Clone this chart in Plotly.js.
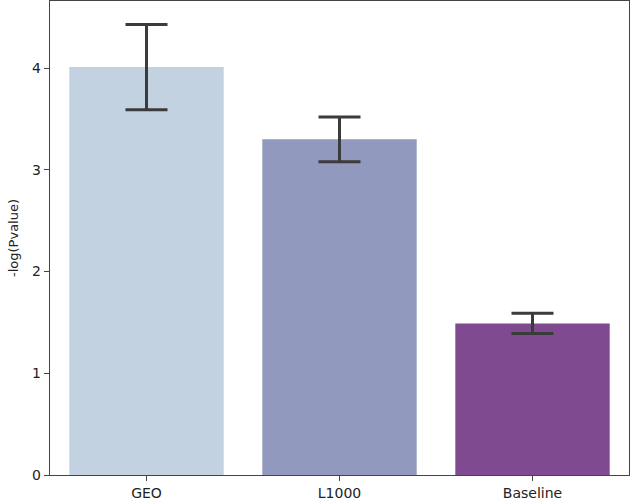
<!DOCTYPE html>
<html>
<head>
<meta charset="utf-8">
<script src="https://cdn.plot.ly/plotly-3.0.1.min.js"></script>
<style>
  html, body { margin: 0; padding: 0; background: #fff; }
  #chart { width: 630px; height: 502px; }
</style>
</head>
<body>
<div id="chart"></div>
<script>
const categories = ['GEO', 'L1000', 'Baseline'];
const values = [4.01, 3.30, 1.49];
const errors = [0.42, 0.22, 0.10];
const colors = ['#c3d2e1', '#9199be', '#7f4a8f'];

let trace = {
  type: 'bar',
  x: categories,
  y: values,
  width: 0.8,
  marker: {color: colors, line: {width: 0}},
  error_y: {
    type: 'data',
    array: errors,
    visible: true,
    color: '#3b3b3b',
    thickness: 3,
    width: 21
  },
  hoverinfo: 'none'
};

let layout = {
  width: 630,
  height: 502,
  margin: {l: 50, r: 1, t: 1, b: 27},
  paper_bgcolor: '#fff',
  plot_bgcolor: '#fff',
  showlegend: false,
  font: {family: 'DejaVu Sans', size: 14, color: '#222'},
  xaxis: {
    range: [-0.5, 2.5],
    showline: true,
    mirror: true,
    linecolor: '#444',
    linewidth: 1.3,
    ticks: 'outside',
    ticklen: 5,
    tickcolor: '#444',
    showgrid: false,
    zeroline: false,
    tickfont: {size: 14}
  },
  yaxis: {
    range: [0, 4.66],
    tickvals: [0, 1, 2, 3, 4],
    showline: true,
    mirror: true,
    linecolor: '#444',
    linewidth: 1.3,
    ticks: 'outside',
    ticklen: 5,
    tickcolor: '#444',
    showgrid: false,
    zeroline: false,
    tickfont: {size: 14},
    title: {text: '-log(Pvalue)', font: {size: 13}, standoff: 10}
  }
};

Plotly.newPlot('chart', [trace], layout, {displayModeBar: false, staticPlot: true});
</script>
</body>
</html>
